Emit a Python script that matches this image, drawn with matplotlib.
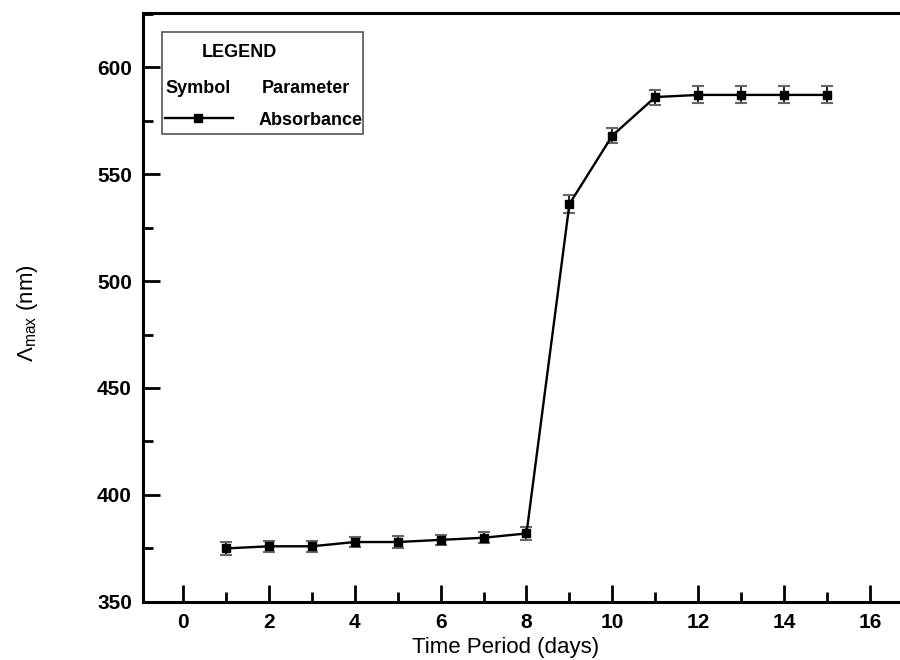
import matplotlib
matplotlib.use("Agg")
import matplotlib.pyplot as plt
from matplotlib.ticker import MultipleLocator
from matplotlib.lines import Line2D
from matplotlib.patches import Rectangle

plt.rcParams['font.family'] = ['Liberation Sans', 'DejaVu Sans']
plt.rcParams['mathtext.fontset'] = 'custom'
plt.rcParams['mathtext.rm'] = 'Liberation Sans'
plt.rcParams['mathtext.it'] = 'Liberation Sans'

days = [1, 2, 3, 4, 5, 6, 7, 8, 9, 10, 11, 12, 13, 14, 15]
lambda_max = [375, 376, 376, 378, 378, 379, 380, 382, 536, 568, 586, 587, 587, 587, 587]
errors = [3, 2.5, 2.5, 2.5, 3, 2.5, 2.5, 3, 4, 3.5, 3.5, 4, 4, 4, 4]

fig = plt.figure(figsize=(9, 6.6), dpi=100)
ax = fig.add_axes([0.159, 0.088, 0.841, 0.892])

ax.errorbar(days, lambda_max, yerr=errors, fmt='none', ecolor='black',
            elinewidth=1.2, capsize=0, zorder=2)
ax.errorbar(days, lambda_max, yerr=errors, fmt='none', ecolor='#666666',
            elinewidth=0, capsize=4.5, capthick=1.5, zorder=2)
ax.plot(days, lambda_max, color='black', lw=1.7, marker='s', markersize=6,
        markerfacecolor='black', zorder=3)

ax.set_xlim(-0.93, 16.7)
ax.set_ylim(350, 625.2)
ax.xaxis.set_major_locator(MultipleLocator(2))
ax.xaxis.set_minor_locator(MultipleLocator(1))
ax.yaxis.set_major_locator(MultipleLocator(50))
ax.yaxis.set_minor_locator(MultipleLocator(25))
ax.tick_params(which='both', direction='in', top=False, right=False, width=2)
ax.tick_params(which='major', length=12, labelsize=15, pad=8)
ax.tick_params(which='minor', length=7)
for lab in ax.get_xticklabels() + ax.get_yticklabels():
    lab.set_fontweight('bold')
for s in ['left', 'bottom', 'top']:
    ax.spines[s].set_linewidth(2.2)
ax.spines['right'].set_visible(False)

ax.set_xlabel('Time Period (days)', fontsize=16)
ax.set_ylabel(r'$\Lambda_{\mathrm{max}}$ (nm)', fontsize=16)
ax.xaxis.set_label_coords((505 - 143) / (899 - 143), (602 - 648) / (602 - 13), transform=ax.transAxes)
ax.yaxis.set_label_coords((28 - 143) / (899 - 143), (602 - 313) / (602 - 13), transform=ax.transAxes)
ax.xaxis.label.set_va('center')
ax.yaxis.label.set_va('center')

# custom legend box
def ax_x(px):
    return (px - 143) / (899 - 143)
def ax_y(py):
    return (602 - py) / (602 - 13)

ax.add_patch(Rectangle((ax_x(162), ax_y(134)), ax_x(363) - ax_x(162), ax_y(32) - ax_y(134),
                       transform=ax.transAxes, fill=False, edgecolor='#555555', lw=1.2, zorder=5))
ax.text(ax_x(239), ax_y(52), 'LEGEND', transform=ax.transAxes, fontsize=13,
        fontweight='bold', ha='center', va='center')
ax.text(ax_x(198), ax_y(88), 'Symbol', transform=ax.transAxes, fontsize=13,
        fontweight='bold', ha='center', va='center')
ax.text(ax_x(306), ax_y(88), 'Parameter', transform=ax.transAxes, fontsize=13,
        fontweight='bold', ha='center', va='center')
ax.text(ax_x(310), ax_y(120), 'Absorbance', transform=ax.transAxes, fontsize=13,
        fontweight='bold', ha='center', va='center')
ax.add_line(Line2D([ax_x(165), ax_x(233)], [ax_y(118), ax_y(118)], transform=ax.transAxes,
                   color='black', lw=1.7))
ax.add_line(Line2D([ax_x(198)], [ax_y(118)], transform=ax.transAxes, color='black',
                   marker='s', markersize=6, lw=0))

fig.savefig('out.png', dpi=100)
